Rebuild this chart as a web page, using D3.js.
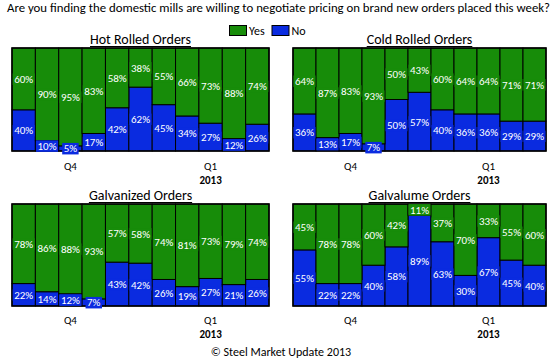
<!DOCTYPE html>
<html><head><meta charset="utf-8">
<script src="https://cdn.jsdelivr.net/npm/d3@7"></script>
<style>
body{margin:0;background:#fff;}
svg{display:block;font-family:Carlito, Calibri, Lato, sans-serif;}
</style></head>
<body><svg id="c" width="557" height="362"></svg>
<script>
const weeks = ["W1","W2","W3","W4","W5","W6","W7","W8","W9","W10","W11"];
const quarterLabels = ["","","Q4","","","","","","Q1","",""];
const yearLabels = ["","","","","","","","","2013","",""];
const seriesNames = ["Yes","No"];
const hotYes = [60,90,95,83,58,38,55,66,73,88,74];
const hotNo  = [40,10,5,17,42,62,45,34,27,12,26];
const coldYes = [64,87,83,93,50,43,60,64,64,71,71];
const coldNo  = [36,13,17,7,50,57,40,36,36,29,29];
const galvYes = [78,86,88,93,57,58,74,81,73,79,74];
const galvNo  = [22,14,12,7,43,42,26,19,27,21,26];
const galvalumeYes = [45,78,78,60,42,11,37,70,33,55,60];
const galvalumeNo  = [55,22,22,40,58,89,63,30,67,45,40];
const panelTitles = ["Hot Rolled Orders","Cold Rolled Orders","Galvanized Orders","Galvalume Orders"];

const GREEN = "#178c09", BLUE = "#0a2be0";
const colors = {Yes: GREEN, No: BLUE};
const svg = d3.select("#c");

// main title
svg.append("text").attr("x",7).attr("y",12).attr("font-size",12.5)
  .attr("textLength",543).attr("lengthAdjust","spacingAndGlyphs").attr("fill","#000")
  .text("Are you finding the domestic mills are willing to negotiate pricing on brand new orders placed this week?");

// legend
const legend = [{n:"Yes",x:229.5},{n:"No",x:272}];
legend.forEach(l=>{
  svg.append("rect").attr("x",l.x).attr("y",25.5).attr("width",17).attr("height",10)
    .attr("fill",colors[l.n]).attr("stroke","#000").attr("stroke-width",1);
  svg.append("text").attr("x",l.x+19.5).attr("y",35).attr("font-size",12).text(l.n);
});

const panels = [
  {title:panelTitles[0], yes:hotYes, no:hotNo, x0:12, x1:269, y0:48, y1:151, ty:44, p1:11.5, p2:25.5},
  {title:panelTitles[1], yes:coldYes, no:coldNo, x0:293, x1:546, y0:48, y1:151, ty:44, p1:11.5, p2:25.5},
  {title:panelTitles[2], yes:galvYes, no:galvNo, x0:12, x1:269, y0:204, y1:306, ty:200, p1:10.5, p2:24},
  {title:panelTitles[3], yes:galvalumeYes, no:galvalumeNo, x0:293, x1:546, y0:204, y1:306, ty:200, p1:10.5, p2:24}
];

panels.forEach(p=>{
  const g = svg.append("g");
  const x = d3.scaleBand().domain(weeks).range([p.x0,p.x1]).padding(0);
  const y = d3.scaleLinear().domain([0,100]).range([p.y1,p.y0]);
  const rows = weeks.map((w,i)=>({w, Yes:p.yes[i], No:p.no[i]}));
  const stack = d3.stack().keys(["No","Yes"])(rows);

  // bars
  stack.forEach(s=>{
    g.selectAll(null).data(s).enter().append("rect")
      .attr("x",d=>x(d.data.w)).attr("width",x.bandwidth())
      .attr("y",d=>y(d[1])).attr("height",d=>y(d[0])-y(d[1]))
      .attr("fill",colors[s.key]).attr("stroke","#000").attr("stroke-width",1);
  });
  // frame
  g.append("rect").attr("x",p.x0).attr("y",p.y0).attr("width",p.x1-p.x0).attr("height",p.y1-p.y0)
    .attr("fill","none").attr("stroke","#000").attr("stroke-width",1.5);

  // labels
  stack.forEach(s=>{
    s.forEach(d=>{
      const v = d[1]-d[0];
      const cx = x(d.data.w)+x.bandwidth()/2;
      const cy = (y(d[0])+y(d[1]))/2;
      const txt = v+"%";
      const t = g.append("text").attr("x",cx).attr("y",cy+4).attr("text-anchor","middle")
        .attr("font-size",11).attr("fill","#fff").text(txt);
      const w = t.node().getComputedTextLength();
      g.insert("rect", function(){return t.node();})
        .attr("x",cx-w/2-1.5).attr("y",cy-5.5).attr("width",w+3).attr("height",11.5)
        .attr("fill",colors[s.key]);
    });
  });

  // axis tick labels
  const ax = g.append("g").attr("transform",`translate(0,${p.y1})`)
    .call(d3.axisBottom(x).tickSize(0).tickPadding(p.p1).tickFormat((d,i)=>quarterLabels[i]));
  ax.select(".domain").remove();
  ax.selectAll("text").attr("font-size",11).attr("font-family","Carlito, Calibri, Lato, sans-serif").attr("fill","#000");
  const ax2 = g.append("g").attr("transform",`translate(0,${p.y1})`)
    .call(d3.axisBottom(x).tickSize(0).tickPadding(p.p2).tickFormat((d,i)=>yearLabels[i]));
  ax2.select(".domain").remove();
  ax2.selectAll("text").attr("font-size",11).attr("font-weight","bold").attr("font-family","Carlito, Calibri, Lato, sans-serif").attr("fill","#000");

  // panel title
  const cxT = (p.x0+p.x1)/2;
  const tt = g.append("text").attr("x",cxT).attr("y",p.ty).attr("text-anchor","middle")
    .attr("font-size",14).text(p.title);
  const tw = tt.node().getComputedTextLength();
  g.append("line").attr("x1",cxT-tw/2).attr("x2",cxT+tw/2).attr("y1",p.ty+2.5).attr("y2",p.ty+2.5)
    .attr("stroke","#000").attr("stroke-width",1);
});

svg.append("text").attr("x",281).attr("y",356).attr("text-anchor","middle").attr("font-size",12)
  .text("© Steel Market Update 2013");
</script></body></html>
